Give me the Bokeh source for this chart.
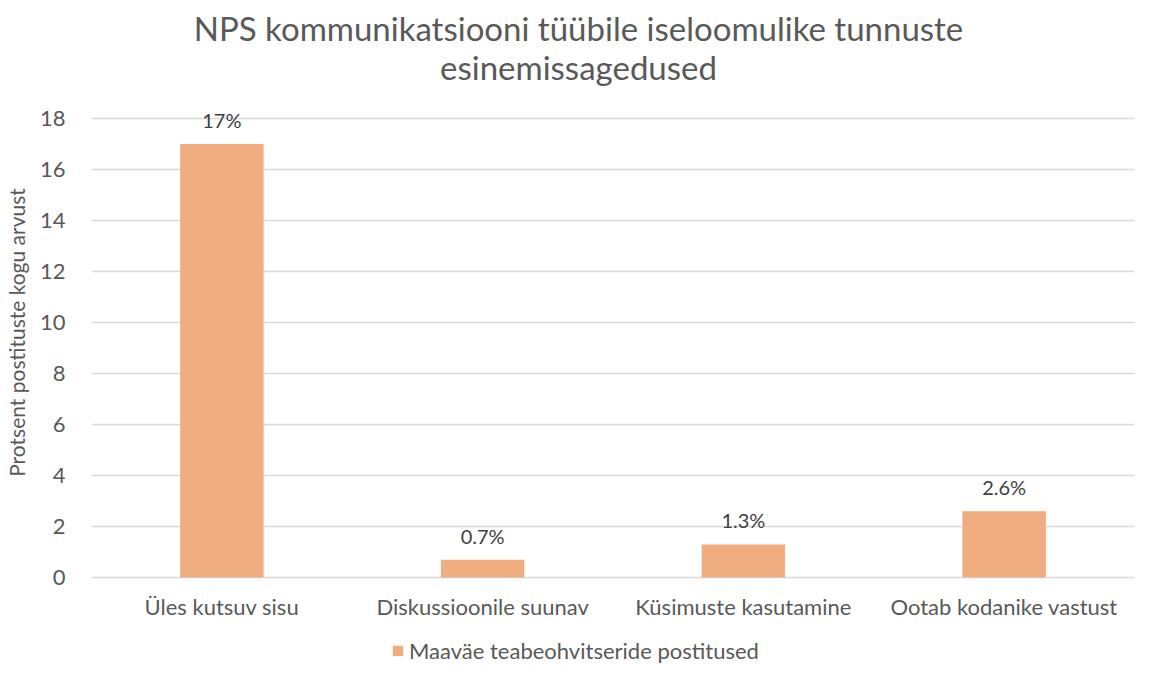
from bokeh.plotting import figure
from bokeh.models import FixedTicker, Legend, LegendItem, ColumnDataSource, LabelSet, Label
from bokeh.core.properties import value
from bokeh.embed import file_html
from bokeh.resources import INLINE

categories = ["Üles kutsuv sisu", "Diskussioonile suunav", "Küsimuste kasutamine", "Ootab kodanike vastust"]
values = [17, 0.7, 1.3, 2.6]
value_labels = ["17%", "0.7%", "1.3%", "2.6%"]
y_ticks = [0, 2, 4, 6, 8, 10, 12, 14, 16, 18]
series_name = "Maaväe teabeohvitseride postitused"
title_lines = ["NPS kommunikatsiooni tüübile iseloomulike tunnuste", "esinemissagedused"]
y_label = "Protsent postituste kogu arvust"

FONT = "Lato"
TXT = "#595959"
BAR = "#F0AD80"

W, H = 1134, 664
src = ColumnDataSource(dict(cat=categories, val=values, lab=value_labels))

p = figure(x_range=categories, y_range=(-3.41, 22.63), width=W, height=H,
           output_backend="svg", toolbar_location=None,
           min_border_left=80, min_border_right=0, min_border_top=0, min_border_bottom=0)
p.outline_line_color = None
p.background_fill_color = "white"
p.x_range.range_padding = 0

r = p.vbar(x="cat", top="val", width=0.32, source=src, fill_color=BAR, line_color=None)

# value labels
p.add_layout(LabelSet(x="cat", y="val", text="lab", source=src, y_offset=24,
                      text_align="center", text_baseline="middle",
                      text_font=value(FONT), text_font_size=value("20px"), text_color="#404040"))

# category labels (x axis)
p.add_layout(LabelSet(x="cat", y=0, text="cat", source=src, y_offset=-29,
                      text_align="center", text_baseline="middle",
                      text_font=value(FONT), text_font_size=value("22px"), text_color=TXT))
p.xaxis.visible = False

# y axis
p.yaxis.ticker = FixedTicker(ticks=y_ticks)
p.yaxis.axis_line_color = None
p.yaxis.major_tick_line_color = None
p.yaxis.minor_tick_line_color = None
p.yaxis.major_label_standoff = 20
p.yaxis.major_label_text_font = FONT
p.yaxis.major_label_text_font_size = "22px"
p.yaxis.major_label_text_color = TXT
p.yaxis.axis_label = y_label
p.yaxis.axis_label_standoff = 8
p.yaxis.axis_label_text_font = FONT
p.yaxis.axis_label_text_font_size = "21px"
p.yaxis.axis_label_text_font_style = "normal"
p.yaxis.axis_label_text_color = TXT

p.xgrid.grid_line_color = None
p.ygrid.grid_line_color = "#D9D9D9"
p.ygrid.grid_line_width = 1.5

# title (two centred lines)
for i, t in enumerate(title_lines):
    p.add_layout(Label(x=487, y=H - 27 - 39 * i, x_units="screen", y_units="screen", text=t,
                       text_align="center", text_baseline="middle",
                       text_font=FONT, text_font_size="33px", text_color=TXT))

legend = Legend(items=[LegendItem(label=series_name, renderers=[r])],
                location=(300, 0), orientation="horizontal",
                label_text_font=FONT, label_text_font_size="22px", label_text_color=TXT,
                glyph_width=13, glyph_height=13, border_line_color=None,
                background_fill_alpha=0, margin=0, padding=4, label_standoff=5)
p.add_layout(legend, "center")

open("out.html", "w").write(file_html(p, INLINE))
